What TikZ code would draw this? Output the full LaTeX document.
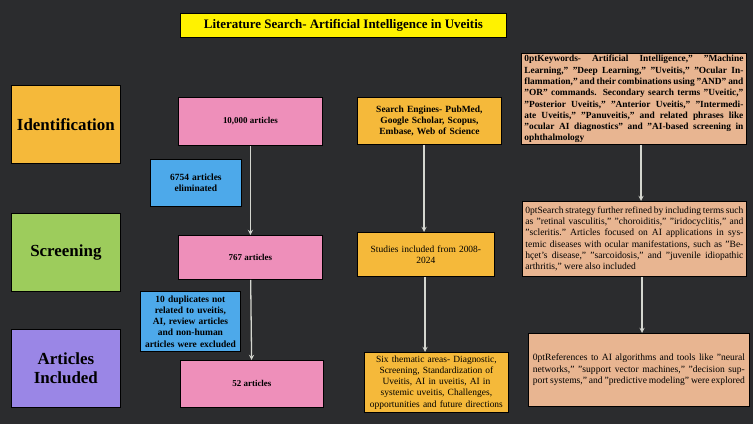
\documentclass[tikz,border=0pt]{standalone}
\usepackage{fontspec}
\setmainfont{Liberation Serif}
\usetikzlibrary{positioning}
\definecolor{bgdark}{HTML}{2B2C2E}
\definecolor{titleyel}{HTML}{FFF200}
\definecolor{stageorange}{HTML}{F5B93A}
\definecolor{stagegreen}{HTML}{9DCC5C}
\definecolor{stagepurple}{HTML}{9A86E6}
\definecolor{countpink}{HTML}{EE8FBA}
\definecolor{dropblue}{HTML}{4DA9EA}
\definecolor{notetan}{HTML}{E8B591}
\definecolor{flowgrey}{HTML}{D4D6CF}
\begin{document}
\begin{tikzpicture}[x=1bp, y=-1bp,
      box/.style={draw=black, thick, inner sep=2bp, align=center,
        font=\fontsize{9}{11}\selectfont, anchor=north west},
      stage/.style={box, font=\fontsize{17}{19}\selectfont\bfseries},
      note/.style={box, align=justify, font=\fontsize{9.6}{11.3}\selectfont\hyphenpenalty=10000 },
      flow/.style={draw=flowgrey, line width=1.3pt, ->, >=stealth}
      ]
  \fill[bgdark] (0,0) rectangle (753,424);
  \useasboundingbox (0,0) rectangle (753,424);

  \node[box, fill=titleyel, minimum width=326bp, minimum height=24bp,
        font=\fontsize{13}{15}\selectfont\bfseries] (title) at (180,13)
        {Literature Search- Artificial Intelligence in Uveitis};

  % stages
  \node[stage, fill=stageorange, minimum width=109bp, minimum height=78bp] (ident) at (11,85) {Identification};
  \node[stage, fill=stagegreen, minimum width=109bp, minimum height=78bp] (screen) at (11,213) {Screening};
  \node[stage, fill=stagepurple, minimum width=109bp, minimum height=78bp, text width=100bp] (incl) at (11,329) {Articles\\Included};

  % counts
  \node[box, fill=countpink, minimum width=144bp, minimum height=48bp, font=\fontsize{9}{11}\selectfont\bfseries] (c1) at (178,97) {10,000 articles};
  \node[box, fill=countpink, minimum width=144bp, minimum height=44bp, font=\fontsize{9}{11}\selectfont\bfseries] (c2) at (178,235) {767 articles};
  \node[box, fill=countpink, minimum width=143bp, minimum height=47bp, font=\fontsize{9}{11}\selectfont\bfseries] (c3) at (180,360) {52 articles};
  \node[box, fill=dropblue, minimum width=91bp, minimum height=47bp, text width=84bp, font=\fontsize{9.5}{11.3}\selectfont\bfseries] (d1) at (150,159) {6754 articles eliminated};
  \node[box, fill=dropblue, minimum width=100bp, minimum height=60bp, text width=94bp, font=\fontsize{9.5}{11.3}\selectfont\bfseries] (d2) at (140,291)
    {10 duplicates not related to uveitis, AI, review articles and non-human articles were excluded};

  % sources
  \node[box, fill=stageorange, minimum width=144bp, minimum height=47bp, text width=138bp, font=\fontsize{9.5}{11.3}\selectfont\bfseries] (s1) at (357,97)
    {Search Engines- PubMed, Google Scholar, Scopus, Embase, Web of Science};
  \node[box, fill=stageorange, minimum width=137bp, minimum height=44bp, text width=130bp, font=\fontsize{9.5}{11.3}\selectfont] (s2) at (357,232)
    {Studies included from 2008-\\2024};
  \node[box, fill=stageorange, minimum width=144bp, minimum height=60bp, text width=140bp, font=\fontsize{9.5}{11.3}\selectfont] (s3) at (364,352)
    {Six thematic areas- Diagnostic, Screening, Standardization of Uveitis, AI in uveitis, AI in systemic uveitis, Challenges, opportunities and future directions};

  % keywords
  \node[note, fill=notetan, minimum width=225bp, minimum height=83bp, text width=219bp, font=\fontsize{9.4}{11.3}\selectfont\bfseries\hyphenpenalty=10000 ] (k1) at (521,53)
    {Keywords- Artificial Intelligence," "Machine Learning," "Deep Learning," "Uveitis," "Ocular Inflammation," and their combinations using "AND" and "OR" commands. Secondary search terms "Uveitic," "Posterior Uveitis," "Anterior Uveitis," "Intermediate Uveitis," "Panuveitis," and related phrases like "ocular AI diagnostics" and "AI-based screening in ophthalmology};
  \node[note, fill=notetan, minimum width=224bp, minimum height=75bp, text width=218bp] (k2) at (522,201)
    {Search strategy further refined by including terms such as "retinal vasculitis," "choroiditis," "iridocyclitis," and "scleritis." Articles focused on AI applications in systemic diseases with ocular manifestations, such as "Behçet's disease," "sarcoidosis," and "juvenile idiopathic arthritis," were also included};
  \node[note, fill=notetan, minimum width=221bp, minimum height=73bp, text width=212bp] (k3) at (528,333)
    {References to AI algorithms and tools like "neural networks," "support vector machines," "decision support systems," and "predictive modeling" were explored};

  % Connect the boxes
  \draw[flow] (c1) -- (c2);
  \draw[flow] (c2) -- (c3);
  \draw[flow] (s1.south -| 424,0) -- (s2.north -| 424,0);
  \draw[flow] (s2.south -| 425,0) -- (s3.north -| 425,0);
  \draw[flow] (k1.south -| 641,0) -- (k2.north -| 641,0);
  \draw[flow] (k2.south -| 642,0) -- (k3.north -| 642,0);
\end{tikzpicture}
\end{document}
